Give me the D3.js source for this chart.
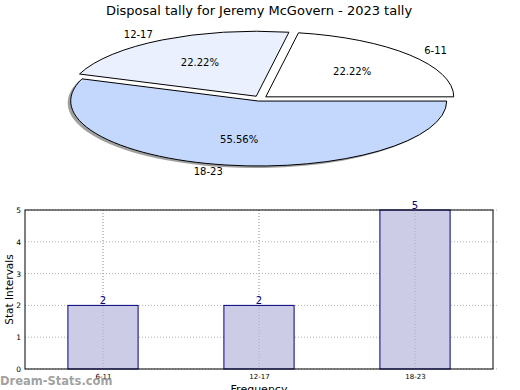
<!DOCTYPE html>
<html><head><meta charset="utf-8">
<script src="https://cdn.jsdelivr.net/npm/d3@7"></script>
<style>body{margin:0;background:#fff}svg{display:block;font-family:"DejaVu Sans",sans-serif}</style>
</head><body>
<svg id="c" width="520" height="390"></svg>
<script>
const title = "Disposal tally for Jeremy McGovern - 2023 tally";
const categories = ["6-11", "12-17", "18-23"];
const values = [2, 2, 5];
const pieColors = ["#ffffff", "#eaf0fe", "#c4d8fe"];
const yTicks = [0, 1, 2, 3, 4, 5];
const yLabel = "Stat Intervals";
const xLabel = "Frequency";
const watermark = "Dream-Stats.com";

const svg = d3.select("#c");
svg.append("text").attr("x", 259).attr("y", 15).attr("text-anchor", "middle")
  .attr("font-size", 13).text(title);

// Pie
const cx = 260, cy = 98.5, rx = 188, ry = 65, explode = 0.04, labelDist = 1.1;
const total = d3.sum(values);
const pie = d3.pie().sort(null).value(d => d)
  .startAngle(Math.PI / 2).endAngle(Math.PI / 2 - 2 * Math.PI);
const arcs = pie(values);
const arc = d3.arc().innerRadius(0).outerRadius(1);
const pctArc = d3.arc().innerRadius(0.6).outerRadius(0.6);
const g = svg.append("g");
function dir(a) {
  const m = (a.startAngle + a.endAngle) / 2;
  return [Math.sin(m), -Math.cos(m)];
}
arcs.forEach((a, i) => {
  if (i !== 2) return;
  const [dx, dy] = dir(a);
  g.append("path").attr("d", arc(a))
    .attr("transform", `translate(${cx + dx * explode * rx - 3},${cy + dy * explode * ry + 2}) scale(${rx},${ry})`)
    .attr("fill", "#888").attr("opacity", 0.8);
});
arcs.forEach((a, i) => {
  const [dx, dy] = dir(a);
  const ox = cx + dx * explode * rx, oy = cy + dy * explode * ry;
  g.append("path").attr("d", arc(a))
    .attr("transform", `translate(${ox},${oy}) scale(${rx},${ry})`)
    .attr("fill", pieColors[i]).attr("stroke", "#000").attr("stroke-width", 1)
    .attr("vector-effect", "non-scaling-stroke");
  g.append("text").attr("x", ox + dx * labelDist * rx).attr("y", oy + dy * labelDist * ry)
    .attr("dy", "0.35em")
    .attr("text-anchor", dx > 0 ? "start" : "end").attr("font-size", 10).text(categories[i]);
  const [px, py] = pctArc.centroid(a);
  g.append("text").attr("x", ox + px * rx).attr("y", oy + py * ry).attr("dy", "0.35em")
    .attr("text-anchor", "middle").attr("font-size", 10)
    .text((values[i] / total * 100).toFixed(2) + "%");
});

// Bar chart
const L = 25, R = 493, T = 210, B = 369;
const x = d3.scaleLinear().domain([-0.5, 2.5]).range([L, R]);
const y = d3.scaleLinear().domain([0, 5]).range([B, T]);
const bw = 0.45;
const grid = svg.append("g");
yTicks.forEach(t => {
  grid.append("line").attr("x1", L).attr("x2", R + 4).attr("y1", y(t)).attr("y2", y(t))
    .attr("stroke", "#b0b0b0").attr("stroke-dasharray", "1,2");
});
categories.forEach((c, i) => {
  grid.append("line").attr("x1", x(i)).attr("x2", x(i)).attr("y1", T).attr("y2", B)
    .attr("stroke", "#b0b0b0").attr("stroke-dasharray", "1,2");
});
svg.append("g").selectAll("rect").data(values).join("rect")
  .attr("x", (d, i) => x(i - bw / 2)).attr("width", x(bw) - x(0))
  .attr("y", d => y(d)).attr("height", d => B - y(d))
  .attr("fill", "#ccccE6").attr("stroke", "#000080").attr("stroke-width", 1);
svg.append("g").selectAll("line").data(categories).join("line")
  .attr("x1", (d, i) => x(i)).attr("x2", (d, i) => x(i)).attr("y1", T).attr("y2", B)
  .attr("stroke", "#999").attr("stroke-opacity", 0.6).attr("stroke-dasharray", "1,2");
svg.append("g").selectAll("text").data(values).join("text")
  .attr("x", (d, i) => x(i)).attr("y", d => y(d) - 1).attr("text-anchor", "middle")
  .attr("font-size", 10).attr("fill", "#000080").text(d => d);
svg.append("rect").attr("x", L).attr("y", T).attr("width", R - L).attr("height", B - T)
  .attr("fill", "none").attr("stroke", "#000").attr("stroke-width", 1);

const yAxis = d3.axisLeft(y).tickValues(yTicks).tickFormat(d3.format("d")).tickSize(0).tickPadding(4);
const ya = svg.append("g").attr("transform", `translate(${L},0)`).call(yAxis);
ya.select(".domain").remove();
ya.selectAll("text").attr("font-size", 7.5).attr("font-family", "DejaVu Sans");
const xAxis = d3.axisBottom(x).tickValues(categories.map((c, i) => i))
  .tickFormat(i => categories[i]).tickSize(0).tickPadding(5);
const xa = svg.append("g").attr("transform", `translate(0,${B})`).call(xAxis);
xa.select(".domain").remove();
xa.selectAll("text").attr("font-size", 7).attr("font-family", "DejaVu Sans");

svg.append("text").attr("transform", `translate(13,${(T + B) / 2}) rotate(-90)`)
  .attr("text-anchor", "middle").attr("font-size", 10.5).text(yLabel);
svg.append("text").attr("x", 259).attr("y", 393).attr("text-anchor", "middle")
  .attr("font-size", 11).text(xLabel);
svg.append("text").attr("x", 0).attr("y", 385).attr("font-size", 11.5).attr("font-weight", "bold")
  .attr("fill", "#888").attr("fill-opacity", 0.8).text(watermark);
</script>
</body></html>
